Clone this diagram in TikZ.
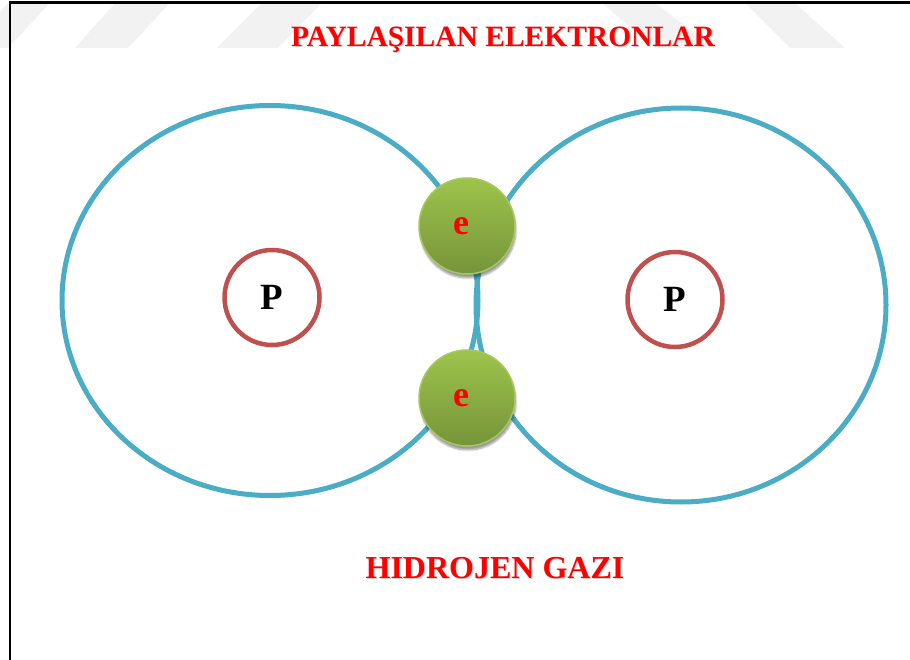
\documentclass[tikz,border=0pt]{standalone}
\usepackage{fontspec}
\setmainfont{Liberation Serif}
\usetikzlibrary{shadows.blur}
\definecolor{orbitblue}{RGB}{75,172,198}
\definecolor{nucleusred}{RGB}{192,80,77}
\definecolor{elecgreentop}{RGB}{158,196,76}
\definecolor{elecgreenbot}{RGB}{118,148,58}
\definecolor{elecrim}{RGB}{165,200,96}
\definecolor{markgray}{RGB}{242,242,242}
\definecolor{titlered}{RGB}{255,0,0}
\tikzset{
  orbit/.style={draw=orbitblue, line width=5pt},
  nucleus/.style={circle, draw=nucleusred, line width=4.5pt, fill=white,
    minimum size=95pt, inner sep=0pt, font=\fontsize{37}{40}\selectfont\bfseries},
  electron/.style={circle, draw=elecrim, line width=1.5pt, top color=elecgreentop,
    bottom color=elecgreenbot, minimum size=96pt, inner sep=0pt,
    blur shadow={shadow xshift=1pt, shadow yshift=-4pt, shadow blur steps=6, shadow opacity=40}},
  elabel/.style={text=titlered, inner sep=0pt, font=\fontsize{36}{38}\selectfont\bfseries},
  heading/.style={text=titlered, anchor=base, inner sep=0pt, font=\fontsize{#1}{#1}\selectfont\bfseries},
  headshadow/.style={text=black!18, anchor=base, inner sep=0pt, font=\fontsize{#1}{#1}\selectfont\bfseries},
  wmband/.style={fill=markgray, draw=none},
  frameline/.style={draw=black, line width=2.5pt}
}
\begin{document}
\begin{tikzpicture}[x=1pt, y=-1pt]
  \useasboundingbox (0,0) rectangle (910,660);
  \fill[wmband] (8,3) -- (50,3) -- (8,48) -- (0,48) -- (0,12) -- cycle;
  \fill[wmband] (115,3) -- (170,3) -- (128,48) -- (75,48) -- cycle;
  \fill[wmband] (262,3) -- (322,3) -- (278,48) -- (217,48) -- cycle;
  \fill[wmband] (602,3) -- (655,3) -- (715,48) -- (655,48) -- cycle;
  \fill[wmband] (745,3) -- (795,3) -- (845,48) -- (790,48) -- cycle;
  \draw[frameline] (10,660) -- (10,2.5) -- (910,2.5);
  \coordinate (leftorbit) at (270,300.5);
  \coordinate (rightorbit) at (681,305);
  \draw[orbit] (leftorbit) ellipse [x radius=208pt, y radius=195pt];
  \draw[orbit] (rightorbit) ellipse [x radius=205pt, y radius=197pt];
  \node[electron] (etop) at (467,226) {};
  \node[electron] (ebottom) at (467,398) {};
  \node[elabel] (etoplabel) at ([xshift=-6pt]etop.center) {e};
  \node[elabel] (ebottomlabel) at ([xshift=-6pt]ebottom.center) {e};
  \node[nucleus] (pleft) at (272,297.5) {P};
  \node[nucleus] (pright) at (675,299.5) {P};
  \node[headshadow=29.5] (sharedshadow) at (504,47.5) {PAYLAŞILAN ELEKTRONLAR};
  \node[heading=29.5] (shared) at (503,46.5) {PAYLAŞILAN ELEKTRONLAR};
  \node[headshadow=32] (gasshadow) at (496,579) {HIDROJEN GAZI};
  \node[heading=32] (gas) at (495,578) {HIDROJEN GAZI};
\end{tikzpicture}
\end{document}
